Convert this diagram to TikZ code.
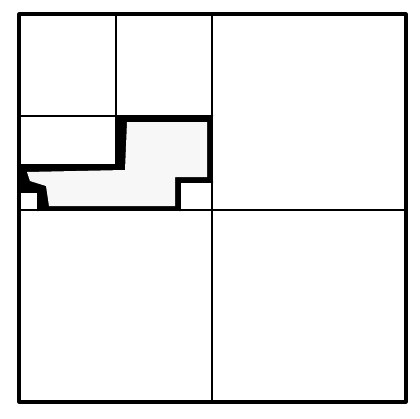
\documentclass[tikz,border=0pt]{standalone}
\begin{document}
\begin{tikzpicture}[x=1pt,y=-1pt,
  gridline/.style={draw=black,line width=2.7pt,line cap=round,line join=round},
  outerline/.style={draw=black,line width=3.1pt,line join=round},
  regionouter/.style={fill=black},
  regioninner/.style={fill=black!3}]
\useasboundingbox (0,0) rectangle (420,418);
% shaded region: black border band, light interior
\fill[regionouter] (116,116) -- (212,116) -- (212,182) -- (180,182) -- (180,210)
  -- (38,210) -- (38,192) -- (19,192) -- (19,165) -- (116,165) -- cycle;
\fill[regioninner] (127,122) -- (207,122) -- (207,177) -- (175,177) -- (175,206)
  -- (49,206) -- (46,186) -- (30,181) -- (27,172) -- (125,170) -- cycle;
% grid lines
\draw[gridline] (212,14) -- (212,402);
\draw[gridline] (19,210) -- (406,210);
\draw[gridline] (116,14) -- (116,165);
\draw[gridline] (19,116) -- (212,116);
\draw[gridline] (19,165) -- (116,165);
\draw[gridline] (19,192) -- (38,192) -- (38,210);
\draw[gridline] (180,210) -- (180,182) -- (212,182);
% outer square
\draw[outerline] (19,14) rectangle (406,402);
\end{tikzpicture}
\end{document}
